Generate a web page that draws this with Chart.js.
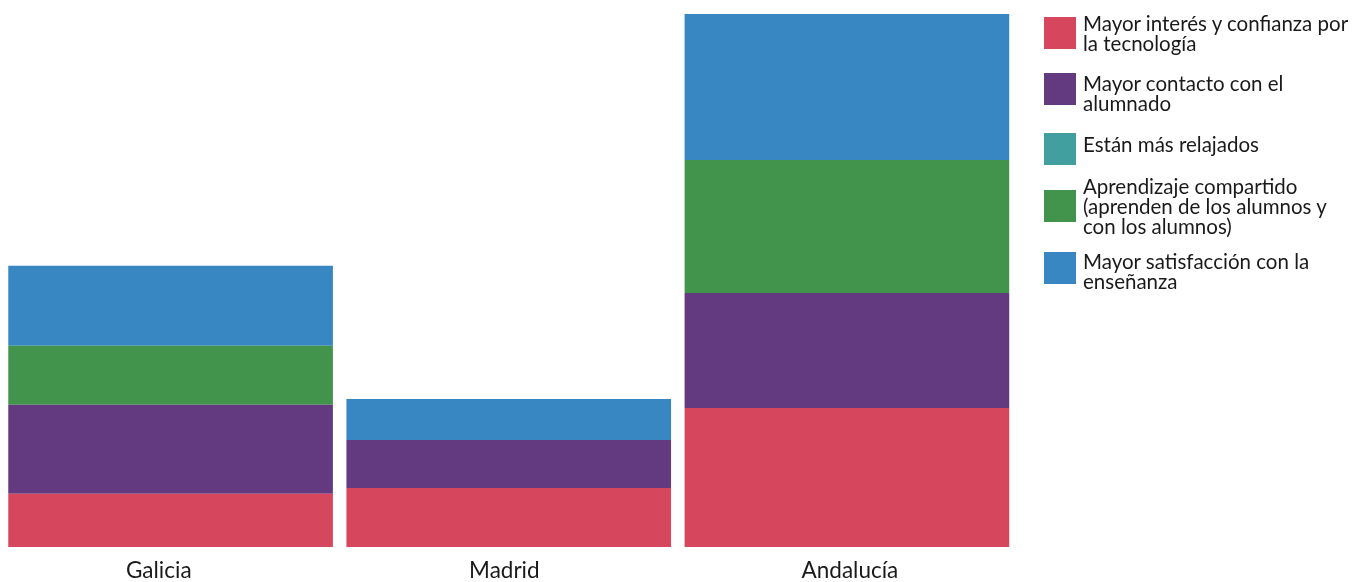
<!DOCTYPE html>
<html>
<head>
<meta charset="utf-8">
<script src="https://cdn.jsdelivr.net/npm/chart.js@4.4.1/dist/chart.umd.min.js"></script>
<style>
  html, body { margin: 0; padding: 0; background: #fff; }
  #wrap { position: relative; width: 1354px; height: 582px; }
  #c { position: absolute; left: 0; top: 0; }
  #legend { position: absolute; left: 1044px; top: 0; width: 310px; font-family: Lato, "Open Sans", sans-serif; font-size: 20.5px; line-height: 20px; color: #1a1a1a; }
  .item { position: absolute; left: 0; width: 310px; }
  .sw { position: absolute; left: 0; width: 32px; height: 32px; }
  .tx { position: absolute; left: 39px; white-space: pre; }
</style>
</head>
<body>
<div id="wrap">
  <canvas id="c" width="1354" height="582"></canvas>
  <div id="legend"></div>
</div>
<script>
const categories = ["Galicia", "Madrid", "Andalucía"];
const seriesNames = [
  "Mayor interés y confianza por\nla tecnología",
  "Mayor contacto con el\nalumnado",
  "Están más relajados",
  "Aprendizaje compartido\n(aprenden de los alumnos y\ncon los alumnos)",
  "Mayor satisfacción con la\nenseñanza"
];
const seriesColors = ["#D6465C", "#633A80", "#41A09F", "#42944C", "#3987C2"];
const interes      = [10.0, 11.1, 26.1];
const contacto     = [16.7,  9.0, 21.6];
const relajados    = [ 0.0,  0.0,  0.0];
const compartido   = [11.1,  0.0, 25.0];
const satisfaccion = [15.0,  7.7, 27.4];
const seriesValues = [interes, contacto, relajados, compartido, satisfaccion];

const totals = categories.map((_, i) => seriesValues.reduce((s, arr) => s + arr[i], 0));
const yMax = Math.max(...totals);

const labelFont = { family: 'Lato, "Open Sans", sans-serif', size: 22.5 };

const chart = new Chart(document.getElementById('c'), {
  type: 'bar',
  data: {
    labels: categories,
    datasets: seriesValues.map((vals, i) => ({
      label: seriesNames[i].replace(/\n/g, ' '),
      data: vals,
      backgroundColor: seriesColors[i],
      borderWidth: 0,
      categoryPercentage: 1.0,
      barPercentage: 0.96
    }))
  },
  options: {
    responsive: false,
    animation: false,
    layout: { padding: { left: 1.5, right: 338, top: 14, bottom: 0 } },
    plugins: { legend: { display: false }, tooltip: { enabled: false } },
    scales: {
      x: {
        stacked: true,
        display: false
      },
      xl: {
        type: 'linear',
        position: 'bottom',
        offset: false,
        bounds: 'data',
        min: -0.4551,
        max: 2.4806,
        grid: { display: false, drawTicks: false, offset: false },
        border: { display: false },
        afterBuildTicks: (axis) => { axis.ticks = categories.map((_, i) => ({ value: i })); },
        afterFit: (axis) => { axis.height = 35; },
        ticks: {
          color: '#1a1a1a',
          padding: 10,
          autoSkip: false,
          maxRotation: 0,
          font: labelFont,
          callback: (v) => categories[v]
        }
      },
      y: {
        stacked: true,
        display: false,
        min: 0,
        max: yMax
      }
    }
  }
});

// HTML legend built from the series names/colours
const legendTops = [17, 73, 133, 190, 252];
const textShift = [0, 4, -5, 0, 3];
const legend = document.getElementById('legend');
seriesNames.forEach((name, i) => {
  const lines = name.split('\n').length;
  const item = document.createElement('div');
  item.className = 'item';
  item.style.top = legendTops[i] + 'px';
  const sw = document.createElement('div');
  sw.className = 'sw';
  sw.style.background = seriesColors[i];
  const tx = document.createElement('div');
  tx.className = 'tx';
  tx.textContent = name;
  tx.style.top = (16 - lines * 10 + textShift[i]) + 'px';
  item.appendChild(sw);
  item.appendChild(tx);
  legend.appendChild(item);
});
</script>
</body>
</html>
